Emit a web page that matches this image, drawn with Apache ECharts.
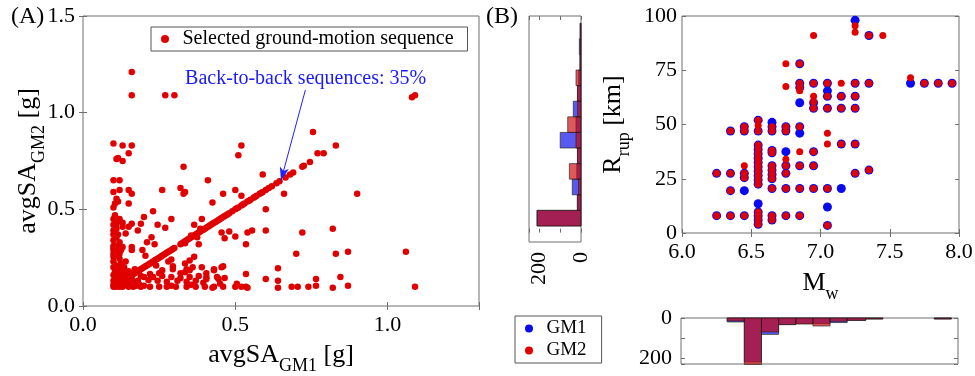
<!DOCTYPE html>
<html>
<head>
<meta charset="utf-8">
<script src="https://cdn.jsdelivr.net/npm/echarts@6/dist/echarts.min.js"></script>
<style>
  html, body { margin: 0; padding: 0; background: #fff; }
  #chart { width: 975px; height: 376px; }
</style>
</head>
<body>
<div id="chart"></div>
<script>
// (A) avgSA of the two ground motions of each selected sequence [g]
// back-to-back sequences: GM1 == GM2, so they sit on the diagonal
var backToBackSA = [0.12, 0.125, 0.13, 0.135, 0.14, 0.145, 0.15, 0.155, 0.16, 0.165, 0.17, 0.175, 0.18, 0.185,
  0.19, 0.195, 0.2, 0.205, 0.21, 0.215, 0.22, 0.225, 0.23, 0.235, 0.24, 0.245, 0.25, 0.255, 0.26, 0.265,
  0.27, 0.275, 0.28, 0.285, 0.29, 0.295, 0.3, 0.32, 0.325, 0.33, 0.335, 0.34, 0.345, 0.35, 0.355, 0.36,
  0.365, 0.37, 0.375, 0.38, 0.385, 0.39, 0.395, 0.4, 0.405, 0.41, 0.415, 0.42, 0.425, 0.43, 0.435, 0.44,
  0.445, 0.45, 0.455, 0.46, 0.465, 0.47, 0.475, 0.48, 0.49, 0.5, 0.505, 0.51, 0.52, 0.525, 0.53, 0.54,
  0.545, 0.55, 0.56, 0.565, 0.57, 0.58, 0.585, 0.59, 0.6, 0.61, 0.62, 0.635, 0.645, 0.665, 0.68, 0.69,
  0.72, 0.725, 0.745];

// other sequences, [avgSA GM1, avgSA GM2]
var otherSequences = [
  [0.16, 1.21], [0.16, 1.09], [0.27, 1.09], [0.30, 1.09], [1.08, 1.08], [1.09, 1.09],
  [0.10, 0.84], [0.13, 0.83], [0.16, 0.83], [0.15, 0.79], [0.11, 0.76], [0.115, 0.765], [0.13, 0.75],
  [0.33, 0.72], [0.52, 0.83], [0.51, 0.78], [0.755, 0.90], [0.83, 0.83], [0.77, 0.79], [0.79, 0.79],
  [0.59, 0.68], [0.10, 0.65], [0.12, 0.65], [0.41, 0.65], [0.26, 0.60], [0.32, 0.61], [0.33, 0.58],
  [0.335, 0.59], [0.10, 0.59], [0.12, 0.60], [0.15, 0.60], [0.16, 0.58], [0.11, 0.555], [0.115, 0.54],
  [0.10, 0.51], [0.105, 0.53], [0.15, 0.53], [0.425, 0.535], [0.23, 0.49], [0.46, 0.58], [0.50, 0.60],
  [0.52, 0.57], [0.66, 0.58], [0.60, 0.50], [0.90, 0.58],
  [0.10, 0.45], [0.12, 0.45], [0.13, 0.43], [0.11, 0.425], [0.16, 0.425], [0.15, 0.41], [0.10, 0.39],
  [0.14, 0.375], [0.11, 0.355], [0.12, 0.33], [0.10, 0.31], [0.13, 0.305], [0.16, 0.305], [0.11, 0.28],
  [0.10, 0.255], [0.12, 0.245], [0.16, 0.29], [0.10, 0.42], [0.11, 0.40], [0.10, 0.37], [0.115, 0.37],
  [0.10, 0.34], [0.113, 0.31], [0.10, 0.29], [0.12, 0.27], [0.10, 0.23], [0.11, 0.21], [0.125, 0.22],
  [0.10, 0.20], [0.105, 0.18], [0.12, 0.19], [0.135, 0.20], [0.10, 0.16], [0.11, 0.15], [0.12, 0.16],
  [0.13, 0.15], [0.14, 0.17], [0.10, 0.13], [0.11, 0.12], [0.12, 0.13], [0.13, 0.12], [0.14, 0.13],
  [0.15, 0.12], [0.10, 0.11], [0.11, 0.10], [0.12, 0.10], [0.13, 0.10], [0.14, 0.11], [0.15, 0.10],
  [0.16, 0.11], [0.16, 0.14], [0.17, 0.12], [0.10, 0.10], [0.105, 0.14], [0.115, 0.175], [0.125, 0.14],
  [0.135, 0.16], [0.145, 0.14], [0.155, 0.125], [0.165, 0.10], [0.175, 0.105], [0.185, 0.11],
  [0.12, 0.44], [0.13, 0.41], [0.105, 0.47], [0.10, 0.30], [0.10, 0.27], [0.125, 0.29], [0.115, 0.26],
  [0.14, 0.23], [0.15, 0.18], [0.13, 0.185],
  [0.20, 0.46], [0.19, 0.425], [0.245, 0.42], [0.27, 0.405], [0.29, 0.45], [0.18, 0.39], [0.225, 0.355],
  [0.21, 0.33], [0.235, 0.32], [0.195, 0.29], [0.205, 0.26], [0.39, 0.45], [0.365, 0.42], [0.385, 0.40],
  [0.355, 0.365], [0.375, 0.355], [0.38, 0.32], [0.335, 0.325], [0.365, 0.255], [0.35, 0.235],
  [0.335, 0.22], [0.295, 0.205], [0.35, 0.185], [0.335, 0.175], [0.455, 0.38], [0.465, 0.35],
  [0.48, 0.385], [0.50, 0.36], [0.54, 0.38], [0.555, 0.39], [0.535, 0.32], [0.60, 0.39], [0.72, 0.38],
  [0.82, 0.40], [0.70, 0.27], [0.83, 0.27], [0.87, 0.28], [1.06, 0.28],
  [0.46, 0.205], [0.43, 0.185], [0.405, 0.17], [0.535, 0.165], [0.64, 0.195], [0.60, 0.14], [0.64, 0.13],
  [0.445, 0.14], [0.45, 0.115], [0.505, 0.115], [0.52, 0.10], [0.54, 0.095], [0.64, 0.095], [0.685, 0.10],
  [0.705, 0.10], [0.74, 0.10], [0.765, 0.14], [0.765, 0.105], [0.82, 0.095], [0.845, 0.15], [0.425, 0.095],
  [0.405, 0.14], [0.87, 0.105], [1.09, 0.10],
  [0.19, 0.10], [0.22, 0.10], [0.25, 0.10], [0.275, 0.10], [0.305, 0.10], [0.34, 0.10], [0.37, 0.10],
  [0.40, 0.10], [0.43, 0.10], [0.46, 0.10], [0.50, 0.10], [0.535, 0.10], [0.20, 0.105], [0.29, 0.105],
  [0.355, 0.11], [0.20, 0.15], [0.23, 0.15], [0.26, 0.155], [0.29, 0.15], [0.32, 0.145], [0.35, 0.15],
  [0.38, 0.155], [0.405, 0.15], [0.44, 0.15], [0.465, 0.145], [0.215, 0.135], [0.245, 0.13], [0.275, 0.125],
  [0.31, 0.13], [0.34, 0.125], [0.37, 0.13], [0.395, 0.12], [0.18, 0.13], [0.19, 0.155],
  [0.295, 0.19], [0.34, 0.19], [0.36, 0.20], [0.39, 0.20], [0.43, 0.19], [0.455, 0.20], [0.26, 0.185],
  [0.28, 0.23], [0.29, 0.24], [0.32, 0.17], [0.25, 0.17], [0.22, 0.165], [0.17, 0.19], [0.24, 0.21]
];

var arrowFrom = [0.73, 1.117];
var arrowTo = [0.65, 0.65];

// (B) [Mw, Rrup km] of each ground motion
var gm1Points = [
  [6.25, 27.5], [6.25, 8], [6.35, 47], [6.35, 27.5], [6.35, 19.5], [6.35, 8],
  [6.45, 49], [6.45, 47], [6.45, 27.5], [6.45, 25.5], [6.45, 19.5], [6.45, 8],
  [6.55, 52], [6.55, 47], [6.55, 40.5], [6.55, 38.5], [6.55, 36.5], [6.55, 34.5], [6.55, 32.5], [6.55, 30.5],
  [6.55, 28.5], [6.55, 26.5], [6.55, 24.5], [6.55, 22.5], [6.55, 13.5], [6.55, 9.7], [6.55, 8], [6.55, 6], [6.55, 4],
  [6.65, 51], [6.65, 49], [6.65, 47], [6.65, 38], [6.65, 37], [6.65, 31], [6.65, 29], [6.65, 27], [6.65, 25],
  [6.65, 20.5], [6.65, 8], [6.65, 6],
  [6.75, 49], [6.75, 47], [6.75, 37.5], [6.75, 31], [6.75, 27.5], [6.75, 20.5], [6.75, 8],
  [6.85, 78], [6.85, 69], [6.85, 67], [6.85, 60], [6.85, 49], [6.85, 46], [6.85, 31], [6.85, 20.5], [6.85, 8],
  [6.95, 69], [6.95, 60], [6.95, 57.5], [6.95, 37.5], [6.95, 31], [6.95, 20.5],
  [7.05, 69], [7.05, 65.5], [7.05, 63], [7.05, 57.5], [7.05, 20.5], [7.05, 12], [7.05, 3.5],
  [7.15, 63], [7.15, 57.5], [7.15, 41], [7.15, 20.5],
  [7.25, 98], [7.25, 69], [7.25, 63], [7.25, 57.5], [7.25, 41], [7.25, 27.5],
  [7.35, 91], [7.35, 69], [7.35, 29],
  [7.65, 69], [7.75, 69], [7.85, 69], [7.95, 69]
];
var gm2Points = [
  [6.25, 27.5], [6.25, 8], [6.35, 47], [6.35, 27.5], [6.35, 19.5], [6.35, 8],
  [6.45, 49], [6.45, 47], [6.45, 31], [6.45, 27.5], [6.45, 25.5], [6.45, 8],
  [6.55, 52], [6.55, 49.5], [6.55, 47], [6.55, 40.5], [6.55, 38.5], [6.55, 36.5], [6.55, 34.5], [6.55, 32.5],
  [6.55, 30.5], [6.55, 28.5], [6.55, 26.5], [6.55, 24.5], [6.55, 22.5], [6.55, 9.7], [6.55, 8], [6.55, 6], [6.55, 4],
  [6.65, 49], [6.65, 47], [6.65, 38], [6.65, 37], [6.65, 31], [6.65, 29], [6.65, 27], [6.65, 25], [6.65, 20.5],
  [6.65, 8], [6.65, 6],
  [6.75, 78], [6.75, 67.5], [6.75, 49], [6.75, 47], [6.75, 34], [6.75, 31], [6.75, 27.5], [6.75, 20.5], [6.75, 8],
  [6.85, 78], [6.85, 69], [6.85, 67], [6.85, 65.5], [6.85, 49], [6.85, 37.5], [6.85, 31], [6.85, 20.5], [6.85, 8],
  [6.95, 91], [6.95, 69], [6.95, 63], [6.95, 60.5], [6.95, 57.5], [6.95, 37.5], [6.95, 31], [6.95, 20.5],
  [7.05, 69], [7.05, 63], [7.05, 57.5], [7.05, 46], [7.05, 41], [7.05, 20.5], [7.05, 3.5],
  [7.15, 69], [7.15, 63], [7.15, 57.5], [7.15, 41],
  [7.25, 95.5], [7.25, 92.5], [7.25, 69], [7.25, 63], [7.25, 57.5], [7.25, 41], [7.25, 27.5],
  [7.35, 91], [7.35, 69], [7.35, 29], [7.45, 91],
  [7.65, 71.5], [7.75, 69], [7.85, 69], [7.95, 69]
];

// marginal histograms: bin edges and counts
var rEdges = [3.1, 10.4, 17.7, 25.0, 32.3, 39.6, 46.9, 54.2, 61.5, 68.8, 76.1, 83.4, 90.7, 98.0];
var gm1RCounts = [212, 18, 42, 20, 17, 100, 24, 37, 17, 11, 5, 8, 4];
var gm2RCounts = [210, 16, 12, 56, 17, 24, 64, 16, 17, 24, 5, 4, 4];

var mwEdges = [6.25, 6.38, 6.51, 6.64, 6.77, 6.90, 7.03, 7.16, 7.30, 7.43, 7.56, 7.69, 7.82, 7.95];
var gm1MwCounts = [20, 220, 82, 33, 28, 28, 23, 12, 5, 0, 0, 0, 5];
var gm2MwCounts = [15, 232, 70, 33, 30, 40, 17, 12, 5, 0, 0, 0, 5];

var FONT = 'Liberation Serif';
var AX = '#6e6e6e';
var RED = '#e00000';
var BLUE = '#0a0af0';

function bins(edges, counts) {
  var out = [];
  for (var i = 0; i < counts.length; i++) out.push([edges[i], edges[i + 1], counts[i]]);
  return out;
}

function histItem(horizontal, fill) {
  return function (params, api) {
    var lo = api.value(0), hi = api.value(1), n = api.value(2);
    if (!n) return null;
    var p0 = horizontal ? api.coord([0, lo]) : api.coord([lo, 0]);
    var p1 = horizontal ? api.coord([n, hi]) : api.coord([hi, n]);
    return {
      type: 'rect',
      shape: {
        x: Math.min(p0[0], p1[0]), y: Math.min(p0[1], p1[1]),
        width: Math.abs(p1[0] - p0[0]), height: Math.abs(p1[1] - p0[1])
      },
      style: { fill: fill, stroke: 'rgba(30,30,30,0.8)', lineWidth: 0.8 }
    };
  };
}

var nameText = {
  fontFamily: FONT, fontSize: 26, color: '#000',
  rich: {
    m: { fontFamily: FONT, fontSize: 26, lineHeight: 30, verticalAlign: 'top', color: '#000' },
    s: { fontFamily: FONT, fontSize: 18, lineHeight: 18, verticalAlign: 'top', padding: [15, 0, 0, 0], color: '#000' }
  }
};

// tick labels go through rich text so the serif face is used for sure
function tickLabel(fn) {
  return function (v) {
    var s = fn(v);
    return s === '' ? '' : '{t|' + s + '}';
  };
}
var tickRich = { t: { fontFamily: FONT, fontSize: 22, color: '#000' } };

function axis(o) {
  var labels = false;
  if (o.labels) {
    labels = {
      fontFamily: FONT, fontSize: 22, color: '#000', margin: o.labels.margin || 8,
      rotate: o.labels.rotate || 0, formatter: tickLabel(o.labels.fn), rich: tickRich
    };
  }
  return {
    type: 'value', gridIndex: o.grid, min: o.min, max: o.max, interval: o.interval,
    position: o.position, inverse: !!o.inverse,
    axisLine: { show: false },
    axisTick: { show: !!o.ticks, inside: true, length: 4, lineStyle: { color: AX } },
    axisLabel: labels || { show: false },
    splitLine: { show: false },
    name: o.name || '', nameLocation: 'middle', nameGap: o.nameGap || 0, nameRotate: o.nameRotate || 0,
    nameTextStyle: nameText, nameMoveOverlap: false
  };
}

function oneDecimal(keep) {
  return function (v) { return keep.indexOf(Math.round(v * 100) / 100) >= 0 ? v.toFixed(1) : ''; };
}
function onlyValues(keep) {
  return function (v) { return keep.indexOf(v) >= 0 ? String(v) : ''; };
}

var chart = echarts.init(document.getElementById('chart'));

var gridBox = { show: true, borderColor: AX, borderWidth: 1, backgroundColor: 'transparent', containLabel: false, outerBoundsMode: 'none' };

chart.setOption({
  animation: false,
  textStyle: { fontFamily: FONT },
  title: [
    { text: '(A)', left: 11, top: 5, padding: 0, textStyle: { fontFamily: FONT, fontSize: 24, fontWeight: 'normal', color: '#000' } },
    { text: '(B)', left: 486, top: 5, padding: 0, textStyle: { fontFamily: FONT, fontSize: 24, fontWeight: 'normal', color: '#000' } }
  ],
  grid: [
    Object.assign({ left: 83, top: 16, width: 396, height: 290 }, gridBox),
    Object.assign({ left: 529, top: 16, width: 52, height: 226 }, gridBox),
    Object.assign({ left: 682, top: 16, width: 277, height: 217 }, gridBox),
    Object.assign({ left: 681, top: 318, width: 277, height: 46 }, gridBox)
  ],
  legend: [
    {
      data: ['Selected ground-motion sequence'], left: 151, top: 27, icon: 'circle',
      itemWidth: 25, itemHeight: 8, itemTextGap: 9, padding: [2, 14, 2, 10],
      borderColor: '#555', borderWidth: 1, selectedMode: false,
      textStyle: { fontFamily: FONT, fontSize: 20, color: '#000' }
    },
    {
      data: ['GM1', 'GM2'], left: 515, top: 316, orient: 'vertical', icon: 'circle',
      itemWidth: 25, itemHeight: 8, itemGap: 3, itemTextGap: 10, padding: [3, 15, 3, 10],
      borderColor: '#555', borderWidth: 1, selectedMode: false,
      textStyle: { fontFamily: FONT, fontSize: 19, color: '#000' }
    }
  ],
  xAxis: [
    axis({ grid: 0, min: 0, max: 1.3, interval: 0.5, position: 'bottom', ticks: true,
      labels: { fn: oneDecimal([0, 0.5, 1]) },
      name: '{m|avgSA}{s|GM1}{m| [g]}', nameGap: 36 }),
    axis({ grid: 0, min: 0, max: 1.3, interval: 0.5, position: 'top', ticks: true }),
    axis({ grid: 1, min: 0, max: 250, interval: 100, position: 'bottom', inverse: true, ticks: true,
      labels: { rotate: 90, margin: 10, fn: onlyValues([0, 200]) } }),
    axis({ grid: 1, min: 0, max: 250, interval: 100, position: 'top', inverse: true, ticks: true }),
    axis({ grid: 2, min: 6, max: 8, interval: 0.5, position: 'bottom', ticks: true,
      labels: { fn: function (v) { return v.toFixed(1); } },
      name: '{m|M}{s|w}', nameGap: 37 }),
    axis({ grid: 2, min: 6, max: 8, interval: 0.5, position: 'top', ticks: true }),
    axis({ grid: 3, min: 5.9, max: 8.0, interval: 0.5, position: 'bottom' })
  ],
  yAxis: [
    axis({ grid: 0, min: 0, max: 1.5, interval: 0.5, position: 'left', ticks: true,
      labels: { fn: function (v) { return v.toFixed(1); } },
      name: '{m|avgSA}{s|GM2}{m| [g]}', nameGap: 38, nameRotate: 90 }),
    axis({ grid: 0, min: 0, max: 1.5, interval: 0.5, position: 'right', ticks: true }),
    axis({ grid: 1, min: -4.4, max: 101.4, interval: 25, position: 'left' }),
    axis({ grid: 2, min: 0, max: 100, interval: 25, position: 'left', ticks: true,
      labels: { margin: 5, fn: function (v) { return String(v); } },
      name: '{m|R}{s|rup}{m| [km]}', nameGap: 52, nameRotate: 90 }),
    axis({ grid: 2, min: 0, max: 100, interval: 25, position: 'right', ticks: true }),
    axis({ grid: 3, min: 0, max: 230, interval: 100, position: 'left', inverse: true, ticks: true,
      labels: { margin: 9, fn: onlyValues([0, 200]) } }),
    axis({ grid: 3, min: 0, max: 230, interval: 100, position: 'right', inverse: true, ticks: true })
  ],
  series: [
    {
      name: 'Selected ground-motion sequence', type: 'scatter', xAxisIndex: 0, yAxisIndex: 0,
      symbolSize: 6.5, itemStyle: { color: RED, opacity: 1 },
      data: otherSequences.concat(backToBackSA.map(function (v) { return [v, v]; })),
      markLine: {
        silent: true, symbol: ['none', 'arrow'], symbolSize: [7, 13], precision: 4,
        lineStyle: { color: '#2020ff', width: 1, type: 'solid' },
        label: {
          show: true, position: 'start', distance: 1,
          formatter: 'Back-to-back sequences: 35%',
          fontFamily: FONT, fontSize: 20, color: '#1a1aff'
        },
        data: [[{ coord: arrowFrom }, { coord: arrowTo }]]
      }
    },
    {
      name: 'GM1 Rrup', type: 'custom', xAxisIndex: 2, yAxisIndex: 2,
      renderItem: histItem(true, 'rgba(0,0,232,0.65)'),
      encode: { x: 2, y: [0, 1] }, data: bins(rEdges, gm1RCounts)
    },
    {
      name: 'GM2 Rrup', type: 'custom', xAxisIndex: 2, yAxisIndex: 2,
      renderItem: histItem(true, 'rgba(204,0,0,0.65)'),
      encode: { x: 2, y: [0, 1] }, data: bins(rEdges, gm2RCounts)
    },
    {
      name: 'GM1', type: 'scatter', xAxisIndex: 4, yAxisIndex: 3,
      symbolSize: 9, itemStyle: { color: BLUE, opacity: 1 }, data: gm1Points
    },
    {
      name: 'GM2', type: 'scatter', xAxisIndex: 4, yAxisIndex: 3,
      symbolSize: 7, itemStyle: { color: RED, opacity: 1 }, data: gm2Points
    },
    {
      name: 'GM1 Mw', type: 'custom', xAxisIndex: 6, yAxisIndex: 5,
      renderItem: histItem(false, 'rgba(0,0,232,0.65)'),
      encode: { x: [0, 1], y: 2 }, data: bins(mwEdges, gm1MwCounts)
    },
    {
      name: 'GM2 Mw', type: 'custom', xAxisIndex: 6, yAxisIndex: 5,
      renderItem: histItem(false, 'rgba(204,0,0,0.65)'),
      encode: { x: [0, 1], y: 2 }, data: bins(mwEdges, gm2MwCounts)
    }
  ]
});

window.onresize = function () { chart.resize(); };
</script>
</body>
</html>
